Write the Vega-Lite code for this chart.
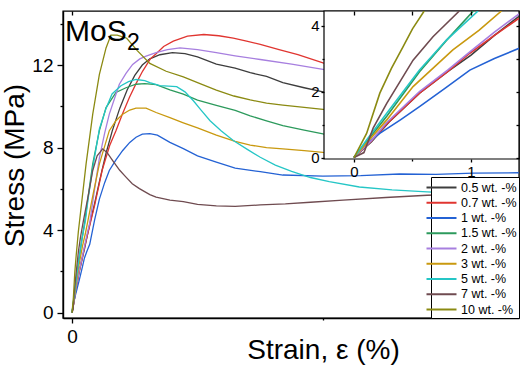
{
  "$schema": "https://vega.github.io/schema/vega-lite/v6.json",
  "width": 456,
  "height": 307,
  "autosize": {"type": "none"},
  "padding": {"left": 63, "top": 11, "right": 6, "bottom": 52},
  "background": "white",
  "config": {
    "font": "Liberation Sans",
    "view": {"stroke": "black", "strokeWidth": 1.4},
    "axis": {"grid": false, "domainColor": "black", "tickColor": "black", "labelColor": "black", "titleColor": "black", "labelFont": "Liberation Sans", "titleFont": "Liberation Sans", "titleFontWeight": "normal", "domainWidth": 1.4, "tickWidth": 1.3}
  },
  "datasets": {
    "curves": [
      {"g":"0.5 wt. -%","s":0,"v":0},{"g":"0.5 wt. -%","s":0.15,"v":0.48},{"g":"0.5 wt. -%","s":0.3,"v":1.08},{"g":"0.5 wt. -%","s":0.56,"v":1.95},{"g":"0.5 wt. -%","s":0.8,"v":2.6},{"g":"0.5 wt. -%","s":1.0,"v":3.1},{"g":"0.5 wt. -%","s":1.2,"v":3.7},{"g":"0.5 wt. -%","s":1.41,"v":4.28},{"g":"0.5 wt. -%","s":1.8,"v":5.3},{"g":"0.5 wt. -%","s":2.2,"v":6.4},{"g":"0.5 wt. -%","s":2.7,"v":7.7},{"g":"0.5 wt. -%","s":3.2,"v":8.8},{"g":"0.5 wt. -%","s":3.8,"v":9.9},{"g":"0.5 wt. -%","s":4.4,"v":10.8},{"g":"0.5 wt. -%","s":5.0,"v":11.5},{"g":"0.5 wt. -%","s":5.6,"v":12.0},{"g":"0.5 wt. -%","s":6.2,"v":12.3},{"g":"0.5 wt. -%","s":7.0,"v":12.5},{"g":"0.5 wt. -%","s":8.0,"v":12.6},{"g":"0.5 wt. -%","s":9.0,"v":12.55},{"g":"0.5 wt. -%","s":10.0,"v":12.4},{"g":"0.5 wt. -%","s":11.5,"v":12.05},{"g":"0.5 wt. -%","s":13.0,"v":11.85},{"g":"0.5 wt. -%","s":14.2,"v":11.63},{"g":"0.5 wt. -%","s":15.5,"v":11.45},{"g":"0.5 wt. -%","s":16.8,"v":11.15},{"g":"0.5 wt. -%","s":18.5,"v":10.9},{"g":"0.5 wt. -%","s":20.0,"v":10.7},{"g":"0.5 wt. -%","s":24,"v":10.2},{"g":"0.5 wt. -%","s":28,"v":9.8},{"g":"0.5 wt. -%","s":32,"v":9.5},{"g":"0.5 wt. -%","s":35.6,"v":9.3},
      {"g":"0.7 wt. -%","s":0,"v":0},{"g":"0.7 wt. -%","s":0.15,"v":0.5},{"g":"0.7 wt. -%","s":0.28,"v":1.02},{"g":"0.7 wt. -%","s":0.56,"v":1.95},{"g":"0.7 wt. -%","s":0.8,"v":2.6},{"g":"0.7 wt. -%","s":0.99,"v":3.16},{"g":"0.7 wt. -%","s":1.2,"v":3.7},{"g":"0.7 wt. -%","s":1.41,"v":4.22},{"g":"0.7 wt. -%","s":1.8,"v":5.2},{"g":"0.7 wt. -%","s":2.4,"v":6.9},{"g":"0.7 wt. -%","s":3.0,"v":8.1},{"g":"0.7 wt. -%","s":3.5,"v":8.82},{"g":"0.7 wt. -%","s":4.0,"v":9.6},{"g":"0.7 wt. -%","s":4.57,"v":10.43},{"g":"0.7 wt. -%","s":5.1,"v":11.1},{"g":"0.7 wt. -%","s":5.63,"v":11.71},{"g":"0.7 wt. -%","s":6.24,"v":12.3},{"g":"0.7 wt. -%","s":6.7,"v":12.55},{"g":"0.7 wt. -%","s":7.3,"v":12.9},{"g":"0.7 wt. -%","s":8.07,"v":13.16},{"g":"0.7 wt. -%","s":9.2,"v":13.4},{"g":"0.7 wt. -%","s":10.5,"v":13.48},{"g":"0.7 wt. -%","s":11.7,"v":13.42},{"g":"0.7 wt. -%","s":12.85,"v":13.3},{"g":"0.7 wt. -%","s":14,"v":13.15},{"g":"0.7 wt. -%","s":15,"v":13.0},{"g":"0.7 wt. -%","s":16.5,"v":12.75},{"g":"0.7 wt. -%","s":18,"v":12.5},{"g":"0.7 wt. -%","s":20,"v":12.11},{"g":"0.7 wt. -%","s":24,"v":11.5},{"g":"0.7 wt. -%","s":28,"v":11.0},{"g":"0.7 wt. -%","s":32,"v":10.6},{"g":"0.7 wt. -%","s":35.6,"v":10.3},
      {"g":"1 wt. -%","s":0,"v":0},{"g":"1 wt. -%","s":0.1,"v":0.4},{"g":"1 wt. -%","s":0.22,"v":0.73},{"g":"1 wt. -%","s":0.4,"v":1.15},{"g":"1 wt. -%","s":0.56,"v":1.54},{"g":"1 wt. -%","s":0.78,"v":2.1},{"g":"1 wt. -%","s":0.99,"v":2.65},{"g":"1 wt. -%","s":1.2,"v":3.0},{"g":"1 wt. -%","s":1.41,"v":3.31},{"g":"1 wt. -%","s":1.8,"v":4.5},{"g":"1 wt. -%","s":2.18,"v":5.5},{"g":"1 wt. -%","s":2.6,"v":6.3},{"g":"1 wt. -%","s":2.97,"v":6.89},{"g":"1 wt. -%","s":3.5,"v":7.4},{"g":"1 wt. -%","s":4.04,"v":7.86},{"g":"1 wt. -%","s":4.6,"v":8.25},{"g":"1 wt. -%","s":5.1,"v":8.5},{"g":"1 wt. -%","s":5.6,"v":8.65},{"g":"1 wt. -%","s":6.2,"v":8.68},{"g":"1 wt. -%","s":6.8,"v":8.6},{"g":"1 wt. -%","s":7.8,"v":8.25},{"g":"1 wt. -%","s":8.87,"v":7.95},{"g":"1 wt. -%","s":10,"v":7.6},{"g":"1 wt. -%","s":11.5,"v":7.3},{"g":"1 wt. -%","s":13,"v":7.0},{"g":"1 wt. -%","s":15,"v":6.83},{"g":"1 wt. -%","s":16.8,"v":6.67},{"g":"1 wt. -%","s":20,"v":6.62},{"g":"1 wt. -%","s":23,"v":6.64},{"g":"1 wt. -%","s":26.1,"v":6.72},{"g":"1 wt. -%","s":29,"v":6.7},{"g":"1 wt. -%","s":32,"v":6.76},{"g":"1 wt. -%","s":35.6,"v":6.78},
      {"g":"1.5 wt. -%","s":0,"v":0},{"g":"1.5 wt. -%","s":0.1,"v":0.45},{"g":"1.5 wt. -%","s":0.28,"v":1.25},{"g":"1.5 wt. -%","s":0.56,"v":2.6},{"g":"1.5 wt. -%","s":0.79,"v":3.55},{"g":"1.5 wt. -%","s":1.02,"v":4.44},{"g":"1.5 wt. -%","s":1.3,"v":5.7},{"g":"1.5 wt. -%","s":1.65,"v":7.21},{"g":"1.5 wt. -%","s":2.18,"v":8.82},{"g":"1.5 wt. -%","s":2.71,"v":9.94},{"g":"1.5 wt. -%","s":3.5,"v":10.67},{"g":"1.5 wt. -%","s":4.3,"v":10.9},{"g":"1.5 wt. -%","s":5.1,"v":11.07},{"g":"1.5 wt. -%","s":5.8,"v":11.1},{"g":"1.5 wt. -%","s":6.7,"v":11.05},{"g":"1.5 wt. -%","s":7.8,"v":10.8},{"g":"1.5 wt. -%","s":8.87,"v":10.59},{"g":"1.5 wt. -%","s":10,"v":10.3},{"g":"1.5 wt. -%","s":11.5,"v":10.05},{"g":"1.5 wt. -%","s":13,"v":9.8},{"g":"1.5 wt. -%","s":14.2,"v":9.54},{"g":"1.5 wt. -%","s":15.5,"v":9.3},{"g":"1.5 wt. -%","s":16.8,"v":9.06},{"g":"1.5 wt. -%","s":18.5,"v":8.85},{"g":"1.5 wt. -%","s":20,"v":8.66},{"g":"1.5 wt. -%","s":24,"v":8.3},{"g":"1.5 wt. -%","s":28,"v":8.0},{"g":"1.5 wt. -%","s":32,"v":7.8},{"g":"1.5 wt. -%","s":35.6,"v":7.6},
      {"g":"2 wt. -%","s":0,"v":0},{"g":"2 wt. -%","s":0.15,"v":0.52},{"g":"2 wt. -%","s":0.28,"v":1.06},{"g":"2 wt. -%","s":0.56,"v":2.0},{"g":"2 wt. -%","s":0.8,"v":2.65},{"g":"2 wt. -%","s":0.99,"v":3.2},{"g":"2 wt. -%","s":1.2,"v":3.8},{"g":"2 wt. -%","s":1.41,"v":4.35},{"g":"2 wt. -%","s":1.8,"v":6.0},{"g":"2 wt. -%","s":2.18,"v":7.5},{"g":"2 wt. -%","s":2.6,"v":8.7},{"g":"2 wt. -%","s":2.97,"v":9.62},{"g":"2 wt. -%","s":3.4,"v":10.4},{"g":"2 wt. -%","s":3.77,"v":11.07},{"g":"2 wt. -%","s":4.3,"v":11.6},{"g":"2 wt. -%","s":4.83,"v":12.03},{"g":"2 wt. -%","s":5.4,"v":12.3},{"g":"2 wt. -%","s":5.9,"v":12.43},{"g":"2 wt. -%","s":6.7,"v":12.6},{"g":"2 wt. -%","s":7.6,"v":12.75},{"g":"2 wt. -%","s":8.6,"v":12.83},{"g":"2 wt. -%","s":10,"v":12.75},{"g":"2 wt. -%","s":11.5,"v":12.6},{"g":"2 wt. -%","s":13,"v":12.45},{"g":"2 wt. -%","s":15,"v":12.27},{"g":"2 wt. -%","s":17.5,"v":12.05},{"g":"2 wt. -%","s":20,"v":11.79},{"g":"2 wt. -%","s":24,"v":11.4},{"g":"2 wt. -%","s":28,"v":11.0},{"g":"2 wt. -%","s":32,"v":10.7},{"g":"2 wt. -%","s":35.6,"v":10.5},
      {"g":"3 wt. -%","s":0,"v":0},{"g":"3 wt. -%","s":0.28,"v":1.14},{"g":"3 wt. -%","s":0.505,"v":2.15},{"g":"3 wt. -%","s":0.845,"v":3.26},{"g":"3 wt. -%","s":1.07,"v":3.86},{"g":"3 wt. -%","s":1.26,"v":4.44},{"g":"3 wt. -%","s":1.7,"v":5.8},{"g":"3 wt. -%","s":2.18,"v":7.21},{"g":"3 wt. -%","s":2.97,"v":8.82},{"g":"3 wt. -%","s":3.5,"v":9.3},{"g":"3 wt. -%","s":4.04,"v":9.62},{"g":"3 wt. -%","s":4.6,"v":9.82},{"g":"3 wt. -%","s":5.1,"v":9.91},{"g":"3 wt. -%","s":5.9,"v":9.91},{"g":"3 wt. -%","s":6.7,"v":9.7},{"g":"3 wt. -%","s":7.8,"v":9.45},{"g":"3 wt. -%","s":8.87,"v":9.2},{"g":"3 wt. -%","s":10,"v":8.95},{"g":"3 wt. -%","s":11.5,"v":8.6},{"g":"3 wt. -%","s":13,"v":8.3},{"g":"3 wt. -%","s":14.2,"v":8.12},{"g":"3 wt. -%","s":15.5,"v":8.0},{"g":"3 wt. -%","s":16.8,"v":7.94},{"g":"3 wt. -%","s":18.5,"v":7.85},{"g":"3 wt. -%","s":20,"v":7.77},{"g":"3 wt. -%","s":24,"v":7.68},{"g":"3 wt. -%","s":28,"v":7.6},{"g":"3 wt. -%","s":32,"v":7.56},{"g":"3 wt. -%","s":35.6,"v":7.53},
      {"g":"5 wt. -%","s":0,"v":0},{"g":"5 wt. -%","s":0.108,"v":0.53},{"g":"5 wt. -%","s":0.28,"v":1.34},{"g":"5 wt. -%","s":0.56,"v":2.65},{"g":"5 wt. -%","s":0.79,"v":3.56},{"g":"5 wt. -%","s":1.06,"v":4.44},{"g":"5 wt. -%","s":1.3,"v":5.6},{"g":"5 wt. -%","s":1.65,"v":7.0},{"g":"5 wt. -%","s":2.18,"v":8.9},{"g":"5 wt. -%","s":2.71,"v":9.9},{"g":"5 wt. -%","s":3.19,"v":10.6},{"g":"5 wt. -%","s":3.9,"v":11.0},{"g":"5 wt. -%","s":4.5,"v":11.2},{"g":"5 wt. -%","s":5.1,"v":11.3},{"g":"5 wt. -%","s":5.8,"v":11.25},{"g":"5 wt. -%","s":6.2,"v":11.15},{"g":"5 wt. -%","s":7.0,"v":11.0},{"g":"5 wt. -%","s":8.34,"v":10.95},{"g":"5 wt. -%","s":9.0,"v":10.7},{"g":"5 wt. -%","s":9.67,"v":10.27},{"g":"5 wt. -%","s":10.3,"v":9.8},{"g":"5 wt. -%","s":11.0,"v":9.3},{"g":"5 wt. -%","s":11.9,"v":8.8},{"g":"5 wt. -%","s":12.85,"v":8.34},{"g":"5 wt. -%","s":14.0,"v":7.9},{"g":"5 wt. -%","s":15.0,"v":7.53},{"g":"5 wt. -%","s":16.2,"v":7.15},{"g":"5 wt. -%","s":17.5,"v":6.85},{"g":"5 wt. -%","s":19,"v":6.55},{"g":"5 wt. -%","s":20.5,"v":6.35},{"g":"5 wt. -%","s":22.9,"v":6.09},{"g":"5 wt. -%","s":25.5,"v":5.95},{"g":"5 wt. -%","s":28.3,"v":5.85},{"g":"5 wt. -%","s":32,"v":5.75},{"g":"5 wt. -%","s":35.6,"v":5.7},
      {"g":"7 wt. -%","s":0,"v":0},{"g":"7 wt. -%","s":0.085,"v":0.15},{"g":"7 wt. -%","s":0.165,"v":0.9},{"g":"7 wt. -%","s":0.28,"v":1.64},{"g":"7 wt. -%","s":0.505,"v":2.95},{"g":"7 wt. -%","s":0.675,"v":3.66},{"g":"7 wt. -%","s":0.9,"v":4.44},{"g":"7 wt. -%","s":1.3,"v":5.7},{"g":"7 wt. -%","s":1.65,"v":6.89},{"g":"7 wt. -%","s":2.0,"v":7.6},{"g":"7 wt. -%","s":2.44,"v":7.94},{"g":"7 wt. -%","s":2.8,"v":7.75},{"g":"7 wt. -%","s":3.24,"v":7.37},{"g":"7 wt. -%","s":3.8,"v":6.9},{"g":"7 wt. -%","s":4.3,"v":6.57},{"g":"7 wt. -%","s":4.8,"v":6.25},{"g":"7 wt. -%","s":5.37,"v":6.01},{"g":"7 wt. -%","s":6.2,"v":5.72},{"g":"7 wt. -%","s":6.7,"v":5.6},{"g":"7 wt. -%","s":7.8,"v":5.45},{"g":"7 wt. -%","s":8.87,"v":5.38},{"g":"7 wt. -%","s":10,"v":5.25},{"g":"7 wt. -%","s":11.5,"v":5.17},{"g":"7 wt. -%","s":13,"v":5.15},{"g":"7 wt. -%","s":15,"v":5.22},{"g":"7 wt. -%","s":17,"v":5.27},{"g":"7 wt. -%","s":19,"v":5.35},{"g":"7 wt. -%","s":21.6,"v":5.45},{"g":"7 wt. -%","s":25,"v":5.58},{"g":"7 wt. -%","s":28.3,"v":5.69},{"g":"7 wt. -%","s":32,"v":5.75},{"g":"7 wt. -%","s":35.6,"v":5.8},
      {"g":"10 wt. -%","s":0,"v":0},{"g":"10 wt. -%","s":0.108,"v":0.73},{"g":"10 wt. -%","s":0.221,"v":1.95},{"g":"10 wt. -%","s":0.32,"v":2.7},{"g":"10 wt. -%","s":0.42,"v":3.36},{"g":"10 wt. -%","s":0.5,"v":3.9},{"g":"10 wt. -%","s":0.6,"v":4.44},{"g":"10 wt. -%","s":1.12,"v":7.21},{"g":"10 wt. -%","s":1.65,"v":9.62},{"g":"10 wt. -%","s":2.18,"v":11.55},{"g":"10 wt. -%","s":2.71,"v":12.83},{"g":"10 wt. -%","s":3.1,"v":13.45},{"g":"10 wt. -%","s":3.6,"v":13.45},{"g":"10 wt. -%","s":4.36,"v":13.3},{"g":"10 wt. -%","s":5.2,"v":12.7},{"g":"10 wt. -%","s":6.2,"v":12.08},{"g":"10 wt. -%","s":7.5,"v":11.7},{"g":"10 wt. -%","s":8.87,"v":11.43},{"g":"10 wt. -%","s":10.2,"v":11.1},{"g":"10 wt. -%","s":11.5,"v":10.79},{"g":"10 wt. -%","s":12.9,"v":10.5},{"g":"10 wt. -%","s":14.2,"v":10.31},{"g":"10 wt. -%","s":15.5,"v":10.15},{"g":"10 wt. -%","s":16.8,"v":10.06},{"g":"10 wt. -%","s":18.5,"v":9.95},{"g":"10 wt. -%","s":20,"v":9.85},{"g":"10 wt. -%","s":24,"v":9.6},{"g":"10 wt. -%","s":28,"v":9.45},{"g":"10 wt. -%","s":32,"v":9.35},{"g":"10 wt. -%","s":35.6,"v":9.3}
    ]
  },
  "data": {"name": "curves"},
  "layer": [
    {
      "layer": [
        {
          "mark": {"type": "line", "strokeWidth": 1.3, "clip": true},
          "encoding": {
            "x": {"field": "s", "type": "quantitative",
              "scale": {"domain": [-0.72, 35.62], "nice": false, "zero": false},
              "axis": {"orient": "bottom", "values": [0, 20], "labelExpr": "datum.value == 0 ? '0' : ''", "tickSize": {"condition": {"test": "datum.value == 0", "value": 5}, "value": 2}, "labelFontSize": 19, "labelPadding": 4, "title": "Strain, ε (%)", "titleFontSize": 28, "titleX": 260, "titleY": 40, "titleAlign": "center", "titleBaseline": "alphabetic"}},
            "y": {"field": "v", "type": "quantitative",
              "scale": {"domain": [-0.26, 14.62], "nice": false, "zero": false},
              "axis": {"orient": "left", "values": [0, 2, 4, 6, 8, 10, 12, 14], "labelExpr": "datum.value % 4 == 0 ? datum.label : ''", "tickSize": {"condition": {"test": "datum.value % 4 == 0", "value": 6}, "value": 3}, "labelFontSize": 19, "labelPadding": 4, "title": "Stress (MPa)", "titleFontSize": 28, "titleAngle": 270, "titleX": -40, "titleY": 154, "titleAlign": "center", "titleBaseline": "alphabetic"}},
            "color": {"field": "g", "type": "nominal",
              "scale": {"domain": ["0.5 wt. -%", "0.7 wt. -%", "1 wt. -%", "1.5 wt. -%", "2 wt. -%", "3 wt. -%", "5 wt. -%", "7 wt. -%", "10 wt. -%"],
                "range": ["#3d3d3d", "#e03530", "#2462d4", "#2c9a5c", "#a77fdf", "#c9990f", "#25c6c6", "#6f4b50", "#8b8a12"]},
              "legend": {"title": null, "orient": "bottom-right", "offset": 0, "padding": 2, "strokeColor": "black", "fillColor": "white", "cornerRadius": 0, "symbolType": "M-2,0H2", "symbolSize": 225, "symbolStrokeWidth": 2, "labelFontSize": 12.5, "labelFont": "Liberation Sans", "labelColor": "black", "rowPadding": 0.25, "labelOffset": 11, "labelLimit": 0}}
          }
        },
        {
          "data": {"values": [{}]},
          "mark": {"type": "text", "align": "left", "baseline": "alphabetic", "fontSize": 30, "font": "Liberation Sans", "color": "black"},
          "encoding": {
            "x": {"datum": -0.56, "type": "quantitative", "axis": {"orient": "top", "values": [0], "labels": false, "domain": false, "tickSize": -4, "title": null}},
            "y": {"datum": 13.16, "type": "quantitative", "axis": null},
            "text": {"value": "MoS"}
          }
        },
        {
          "data": {"values": [{}]},
          "mark": {"type": "text", "align": "left", "baseline": "alphabetic", "fontSize": 23, "font": "Liberation Sans", "color": "black", "dx": 62, "dy": 9},
          "encoding": {
            "x": {"datum": -0.56, "type": "quantitative", "axis": null},
            "y": {"datum": 13.16, "type": "quantitative", "axis": null},
            "text": {"value": "2"}
          }
        }
      ],
      "resolve": {"axis": {"x": "independent", "y": "independent"}}
    },
    {
      "layer": [
        {
          "data": {"values": [{}]},
          "mark": {"type": "rect", "fill": "white", "stroke": "black", "strokeWidth": 1.2},
          "encoding": {
            "x": {"datum": -0.256, "type": "quantitative", "axis": {"orient": "top", "offset": 0, "values": [0, 0.5, 1], "labels": false, "domain": false, "tickSize": -4, "title": null, "zindex": 1}},
            "x2": {"datum": 1.41},
            "y": {"datum": -0.045, "type": "quantitative", "axis": {"orient": "right", "offset": 0, "values": [0, 1, 2, 3, 4], "labels": false, "domain": false, "tickSize": -3, "title": null, "zindex": 1}},
            "y2": {"datum": 4.44}
          }
        },
        {
          "transform": [{"filter": "datum.s <= 1.41 && datum.v <= 4.45"}],
          "mark": {"type": "line", "strokeWidth": 1.6, "clip": true},
          "encoding": {
            "x": {"field": "s", "type": "quantitative",
              "scale": {"domain": [-0.256, 1.41], "range": [261, 456], "nice": false, "zero": false},
              "axis": {"orient": "bottom", "offset": -159, "values": [0, 0.5, 1], "labelExpr": "datum.value % 1 == 0 ? format(datum.value, 'd') : ''", "tickSize": {"condition": {"test": "datum.value % 1 == 0", "value": 3}, "value": 2}, "domain": false, "labelFontSize": 15, "labelPadding": 2, "title": null, "zindex": 1}},
            "y": {"field": "v", "type": "quantitative",
              "scale": {"domain": [-0.045, 4.44], "range": [148, 0], "nice": false, "zero": false},
              "axis": {"orient": "left", "offset": -261, "values": [0, 1, 2, 3, 4], "labelExpr": "datum.value % 2 == 0 ? datum.label : ''", "tickSize": {"condition": {"test": "datum.value % 2 == 0", "value": 3}, "value": 2}, "domain": false, "labelFontSize": 15, "labelPadding": 2, "title": null, "zindex": 1}},
            "color": {"field": "g", "type": "nominal"}
          }
        }
      ],
      "resolve": {"axis": {"x": "independent", "y": "independent"}}
    }
  ],
  "resolve": {"scale": {"x": "independent", "y": "independent"}, "axis": {"x": "independent", "y": "independent"}}
}
